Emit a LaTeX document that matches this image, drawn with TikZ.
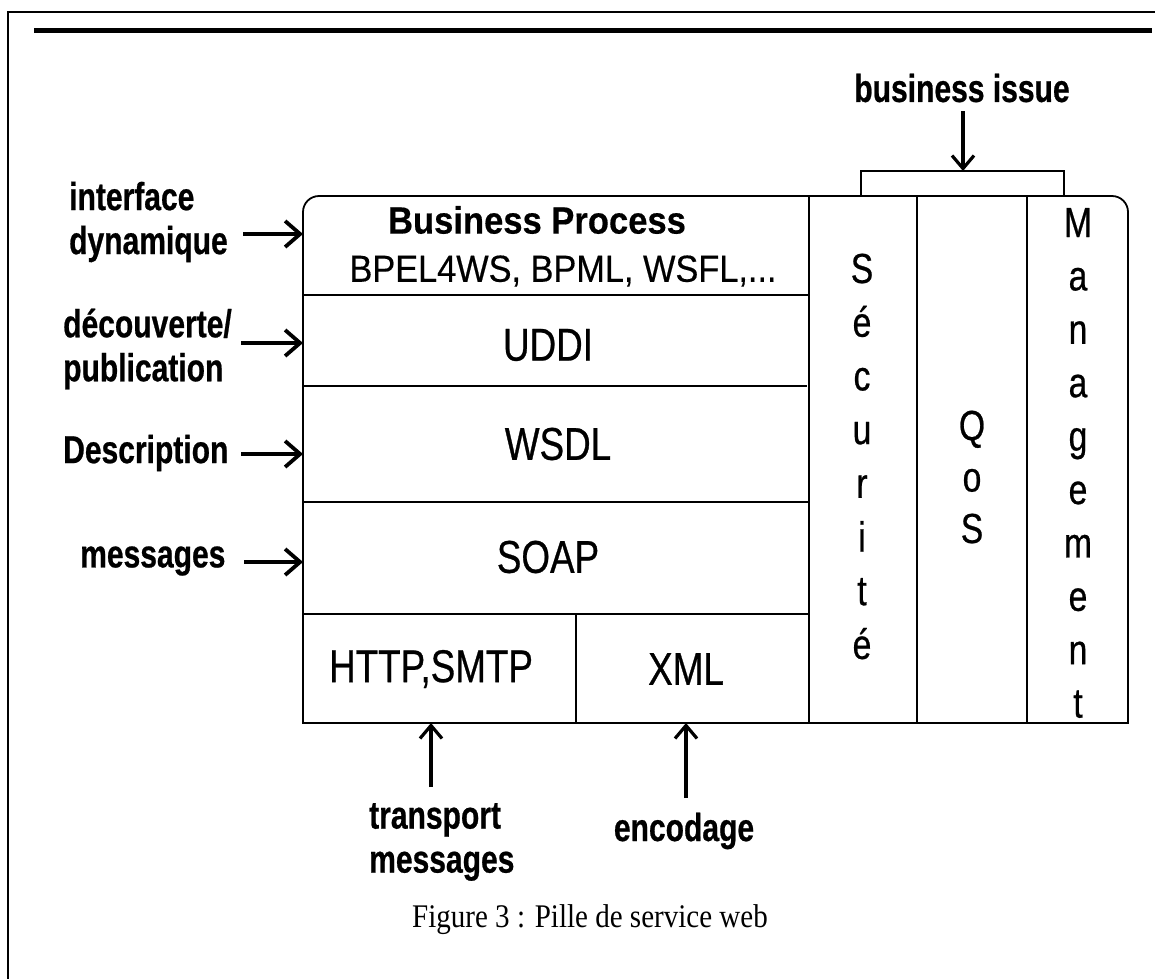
\documentclass[tikz,border=0pt]{standalone}
\usepackage{fontspec}
\setmainfont{Liberation Serif}
\newfontfamily\lblfont[FakeStretch=0.77,FakeBold=0.6]{Liberation Sans}
\newfontfamily\stackfont[FakeStretch=0.8,FakeBold=0.6]{Liberation Sans}
\newfontfamily\topfont[FakeStretch=0.91,FakeBold=0.4]{Liberation Sans}
\newfontfamily\capfont[FakeStretch=0.88]{Liberation Serif}
\usetikzlibrary{arrows.meta}

\begin{document}
\begin{tikzpicture}[x=1pt,y=-1pt,
  box/.style={line width=1.8pt, line cap=rect},
  side/.style={font=\lblfont\bfseries\fontsize{39}{44}\selectfont, inner sep=0pt, align=left, anchor=west},
  layer/.style={font=\stackfont\fontsize{46}{50}\selectfont, inner sep=0pt},
  topbold/.style={font=\topfont\bfseries\fontsize{38}{42}\selectfont, inner sep=0pt},
  toptext/.style={font=\topfont\fontsize{37.7}{42}\selectfont, inner sep=0pt},
  letter/.style={font=\stackfont\fontsize{42}{50}\selectfont, inner sep=0pt, anchor=base},
  pin/.style={line width=4pt, -{Straight Barb[length=15pt,width=26pt,line width=3.8pt]}},
  uppin/.style={line width=3.5pt, -{Straight Barb[length=13pt,width=22pt,line width=3.2pt]}},
  caption/.style={font=\capfont\fontsize{33}{36}\selectfont, inner sep=0pt}]
\useasboundingbox (0,0) rectangle (1155,978);

% page frame and heading rule
\draw[line width=2.5pt] (8,990) -- (8,12) -- (1160,12);
\draw[line width=5pt] (34,30) -- (1152,30);

% outline of the stack, rounded at the top
\draw[box, rounded corners=16pt, line cap=butt] (303,723) -- (303,196) -- (1128,196) -- (1128,723);
\draw[box] (303,723) -- (1128,723);

% layer separators
\draw[box] (303,295) -- (809,295);
\draw[box] (303,386) -- (806,386);
\draw[box] (303,502) -- (809,502);
\draw[box] (303,614) -- (809,614);
\draw[box] (576,614) -- (576,723);

% vertical columns
\draw[box] (809,196) -- (809,723);
\draw[box] (917,196) -- (917,723);
\draw[box] (1027,196) -- (1027,723);

% bracket over the transversal columns
\draw[box] (861,196) -- (861,171) -- (1064,171) -- (1064,196);

% layer labels
\node[topbold] (bp) at (537,220) {Business Process};
\node[toptext] (bpel) at (563,271) {BPEL4WS, BPML, WSFL,...};
\node[layer] (uddi) at (548,345) {UDDI};
\node[layer] (wsdl) at (558,444) {WSDL};
\node[layer] (soap) at (548,557) {SOAP};
\node[layer] (http) at (431,669) {HTTP,SMTP};
\node[layer] (xml) at (686,669) {XML};

% vertical column words
\foreach \ch [count=\i] in {S,é,c,u,r,i,t,é}
  \node[letter] (sec\i) at (862,{283+53.7*(\i-1)}) {\ch};
\foreach \ch [count=\i] in {Q,o,S}
  \node[letter] (qos\i) at (972,{440+51.5*(\i-1)}) {\ch};
\foreach \ch [count=\i] in {M,a,n,a,g,e,m,e,n,t}
  \node[letter] (man\i) at (1078,{237+53.4*(\i-1)}) {\ch};

% side annotations
\node[side] (l1) at (69,222) {interface\\dynamique};
\node[side] (l2) at (63,349) {découverte/\\publication};
\node[side] (l3) at (63,453) {Description};
\node[side] (l4) at (80,561) {messages};
\node[side] (l5) at (369,842) {transport\\messages};
\node[side, anchor=center] (l6) at (684,831) {encodage};
\node[side, anchor=center] (l7) at (962,88) {business issue};

% arrow anchors
\coordinate (t1) at (243,234); \coordinate (p1) at (303,234);
\coordinate (t2) at (241,343); \coordinate (p2) at (303,343);
\coordinate (t3) at (241,454); \coordinate (p3) at (303,454);
\coordinate (t4) at (244,562); \coordinate (p4) at (303,562);
\coordinate (t5) at (431,787); \coordinate (p5) at (431,723);
\coordinate (t6) at (686,798); \coordinate (p6) at (686,723);
\coordinate (t7) at (963,111); \coordinate (p7) at (963,171);

\draw[pin] (t1) -- (p1);
\draw[pin] (t2) -- (p2);
\draw[pin] (t3) -- (p3);
\draw[pin] (t4) -- (p4);
\draw[uppin] (t5) -- (p5);
\draw[uppin] (t6) -- (p6);
\draw[uppin] (t7) -- (p7);

% caption
\node[caption] (cap) at (590,920) {Figure 3 : Pille de service web};
\end{tikzpicture}
\end{document}
